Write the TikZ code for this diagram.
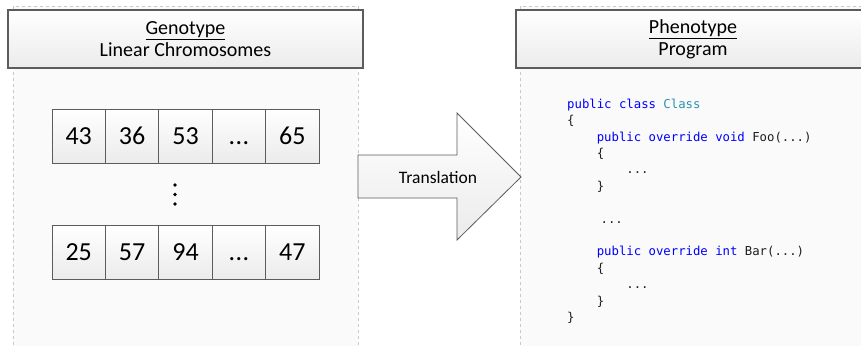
\documentclass[tikz,border=0pt]{standalone}
\usepackage{fontspec}
\setmainfont{Carlito}
\newfontfamily\codefont{DejaVu Sans Mono}
\usetikzlibrary{positioning}

\definecolor{panelfill}{HTML}{FAFAFA}
\definecolor{paneledge}{HTML}{C8C8C8}
\definecolor{boxedge}{HTML}{5C5C5C}
\definecolor{shadetop}{HTML}{FFFFFF}
\definecolor{shadebot}{HTML}{EBEBEB}
\definecolor{kw}{HTML}{0000FF}
\definecolor{typename}{HTML}{2B91AF}
\definecolor{codetext}{HTML}{1E1E1E}

\tikzset{
  panel/.style={draw=paneledge, dashed, line width=0.6pt, fill=panelfill},
  header/.style={draw=boxedge, line width=1.2pt, top color=shadetop, bottom color=shadebot,
    inner sep=0pt, align=center, font=\fontsize{20}{22}\selectfont},
  cell/.style={draw=boxedge, line width=1pt, top color=shadetop, bottom color=shadebot,
    minimum width=53.4pt, minimum height=54pt, inner sep=0pt, outer sep=0pt,
    text height=16.8pt, text depth=0pt, font=\fontsize{26}{28}\selectfont},
  bigarrow/.style={draw=boxedge, line width=0.8pt, top color=shadetop, bottom color=shadebot},
  code/.style={anchor=mid west, inner sep=0pt, text=codetext, font=\codefont\fontsize{12.3}{14}\selectfont},
}
\newcommand{\kwd}[1]{\textcolor{kw}{#1}}
% three baseline dots
\newcommand{\threedots}{.\kern0.5pt.\kern0.5pt.}

\begin{document}
\begin{tikzpicture}[x=1pt,y=-1pt]
  \useasboundingbox (0,0) rectangle (861,345);
  \clip (0,0) rectangle (861,345);

  % background panels
  \draw[panel] (13,6) rectangle (358,360);
  \draw[panel] (520,6) rectangle (880,360);

  % panel headers
  \node[header, minimum width=355pt, minimum height=58pt] (geno) at (185.5,39)
    {\underline{Genotype}\\Linear Chromosomes};
  \node[header, minimum width=354pt, minimum height=58pt] (pheno) at (693,39)
    {\underline{Phenotype}\\Program};

  % first chromosome
  \node[cell] (a1) at (78.7,136) {43};
  \node[cell, right=0pt of a1] (a2) {36};
  \node[cell, right=0pt of a2] (a3) {53};
  \node[cell, right=0pt of a3] (a4) {\threedots};
  \node[cell, right=0pt of a4] (a5) {65};

  % last chromosome
  \node[cell] (b1) at (78.7,252.5) {25};
  \node[cell, right=0pt of b1] (b2) {57};
  \node[cell, right=0pt of b2] (b3) {94};
  \node[cell, right=0pt of b3] (b4) {\threedots};
  \node[cell, right=0pt of b4] (b5) {47};

  % vertical ellipsis between the rows
  \fill (175,185) circle (1.9) (175,194.5) circle (1.9) (175,204) circle (1.9);

  % translation arrow
  \path[bigarrow] (358,155) -- (457,155) -- (457,113) -- (521,177) -- (457,240)
    -- (457,198) -- (358,198) -- cycle;
  \node[font=\fontsize{17.5}{20}\selectfont] (trans) at (438,177) {Translation};

  % program listing
  \node[code] (c1)  at (567,106)     {\kwd{public class} \textcolor{typename}{Class}};
  \node[code] (c2)  at (567,122.4)   {\{};
  \node[code] (c3)  at (596.6,138.8) {\kwd{public override void} Foo(...)};
  \node[code] (c4)  at (596.6,155.2) {\{};
  \node[code] (c5)  at (626.2,171.6) {...};
  \node[code] (c6)  at (596.6,188)   {\}};
  \node[code] (c7)  at (600.4,220.8) {...};
  \node[code] (c8)  at (596.6,253.6) {\kwd{public override int} Bar(...)};
  \node[code] (c9)  at (596.6,270)   {\{};
  \node[code] (c10) at (626.2,286.4) {...};
  \node[code] (c11) at (596.6,302.8) {\}};
  \node[code] (c12) at (567,319.2)   {\}};
\end{tikzpicture}
\end{document}
